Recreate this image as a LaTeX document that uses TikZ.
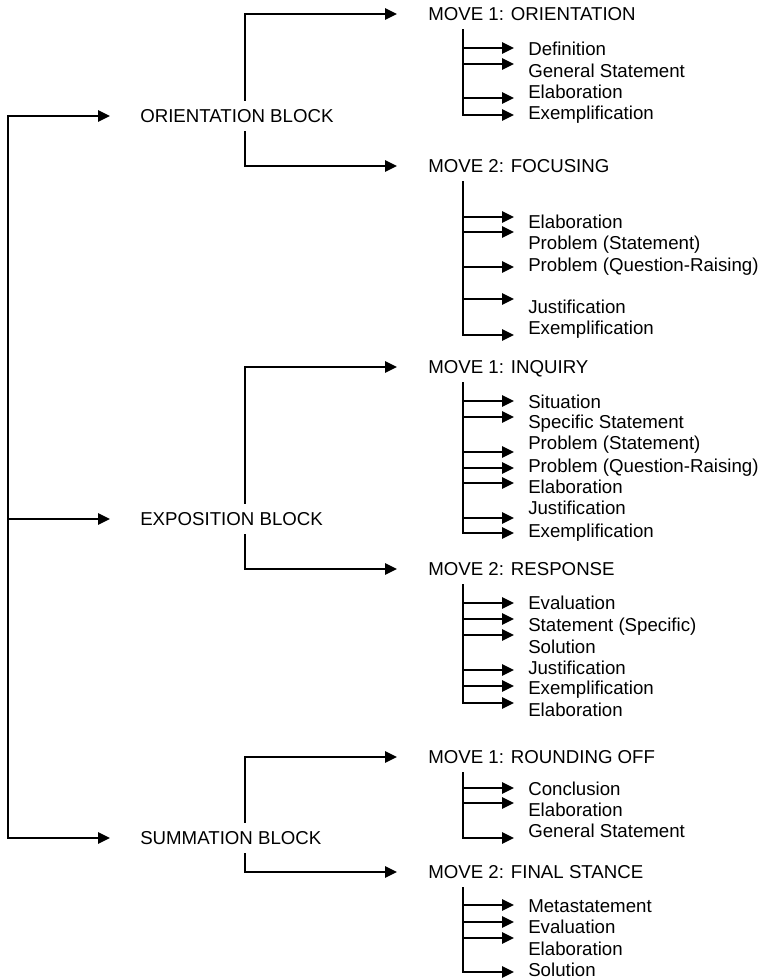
\documentclass[tikz,border=0pt]{standalone}
\usepackage{fontspec}
\setmainfont{Liberation Sans}
\usetikzlibrary{arrows.meta}

\begin{document}
\begin{tikzpicture}[x=0.75pt, y=-0.75pt,
  every node/.style={font=\fontsize{14}{16}\selectfont, text height=10pt, text depth=0pt,
                     inner ysep=0pt, anchor=west},
  blk/.style={inner xsep=22.5pt, inner ysep=7pt},
  mv/.style={inner xsep=23.25pt, inner ysep=7pt},
  itm/.style={inner xsep=10.5pt},
  arr/.style={-{Triangle[length=9pt,width=8.5pt]}, line width=1.5pt, line cap=rect}
]
\useasboundingbox (0,0) rectangle (760,980);
\coordinate (trunk) at (8,116);
\coordinate (bx) at (245,0);
\coordinate (sx) at (463,0);

% blocks
\node[blk] (ob) at (110,116) {ORIENTATION BLOCK};
\node[blk] (eb) at (110,519) {EXPOSITION BLOCK};
\node[blk] (sb) at (110,838) {SUMMATION BLOCK};
\draw[arr] (trunk) |- (sb.west);
\draw[arr] (trunk) -- (ob.west);
\draw[arr] (eb.west -| trunk) -- (eb.west);

% moves
\node[mv] (o1) at (397,14) {MOVE 1: ORIENTATION};
\node[mv] (o2) at (397,166) {MOVE 2: FOCUSING};
\node[mv] (e1) at (397,367) {MOVE 1: INQUIRY};
\node[mv] (e2) at (397,569) {MOVE 2: RESPONSE};
\node[mv] (s1) at (397,757) {MOVE 1: ROUNDING OFF};
\node[mv] (s2) at (397,872) {MOVE 2: FINAL STANCE};
\draw[arr] (ob.north -| bx) |- (o1.west);
\draw[arr] (ob.south -| bx) |- (o2.west);
\draw[arr] (eb.north -| bx) |- (e1.west);
\draw[arr] (eb.south -| bx) |- (e2.west);
\draw[arr] (sb.north -| bx) |- (s1.west);
\draw[arr] (sb.south -| bx) |- (s2.west);

% move 1: orientation
\node[itm] (o1a) at (514,49) {Definition};
\node[itm] (o1b) at (514,71) {General Statement};
\node[itm] (o1c) at (514,92) {Elaboration};
\node[itm] (o1d) at (514,113) {Exemplification};
\draw[arr] (o1.south -| sx) |- (o1d.west |- 0,115);
\draw[arr] (sx |- 0,48) -- (o1a.west |- 0,48);
\draw[arr] (sx |- 0,64) -- (o1b.west |- 0,64);
\draw[arr] (sx |- 0,98) -- (o1c.west |- 0,98);

% move 2: focusing
\node[itm] (o2a) at (514,222) {Elaboration};
\node[itm] (o2b) at (514,243) {Problem (Statement)};
\node[itm] (o2c) at (514,265) {Problem (Question-Raising)};
\node[itm] (o2d) at (514,307) {Justification};
\node[itm] (o2e) at (514,328) {Exemplification};
\draw[arr] (o2.south -| sx) |- (o2e.west |- 0,335);
\draw[arr] (sx |- 0,217) -- (o2a.west |- 0,217);
\draw[arr] (sx |- 0,232) -- (o2b.west |- 0,232);
\draw[arr] (sx |- 0,267) -- (o2c.west |- 0,267);
\draw[arr] (sx |- 0,299) -- (o2d.west |- 0,299);

% move 1: inquiry
\node[itm] (e1a) at (514,402) {Situation};
\node[itm] (e1b) at (514,422) {Specific Statement};
\node[itm] (e1c) at (514,443) {Problem (Statement)};
\node[itm] (e1d) at (514,466) {Problem (Question-Raising)};
\node[itm] (e1e) at (514,487) {Elaboration};
\node[itm] (e1f) at (514,508) {Justification};
\node[itm] (e1g) at (514,531) {Exemplification};
\draw[arr] (e1.south -| sx) |- (e1g.west |- 0,533);
\draw[arr] (sx |- 0,401) -- (e1a.west |- 0,401);
\draw[arr] (sx |- 0,417) -- (e1b.west |- 0,417);
\draw[arr] (sx |- 0,452) -- (e1c.west |- 0,452);
\draw[arr] (sx |- 0,468) -- (e1d.west |- 0,468);
\draw[arr] (sx |- 0,483) -- (e1e.west |- 0,483);
\draw[arr] (sx |- 0,518) -- (e1f.west |- 0,518);

% move 2: response
\node[itm] (e2a) at (514,603) {Evaluation};
\node[itm] (e2b) at (514,625) {Statement (Specific)};
\node[itm] (e2c) at (514,647) {Solution};
\node[itm] (e2d) at (514,668) {Justification};
\node[itm] (e2e) at (514,688) {Exemplification};
\node[itm] (e2f) at (514,710) {Elaboration};
\draw[arr] (e2.south -| sx) |- (e2f.west |- 0,703);
\draw[arr] (sx |- 0,603) -- (e2a.west |- 0,603);
\draw[arr] (sx |- 0,619) -- (e2b.west |- 0,619);
\draw[arr] (sx |- 0,635) -- (e2c.west |- 0,635);
\draw[arr] (sx |- 0,670) -- (e2d.west |- 0,670);
\draw[arr] (sx |- 0,686) -- (e2e.west |- 0,686);

% move 1: rounding off
\node[itm] (s1a) at (514,789) {Conclusion};
\node[itm] (s1b) at (514,810) {Elaboration};
\node[itm] (s1c) at (514,831) {General Statement};
\draw[arr] (s1.south -| sx) |- (s1c.west |- 0,838);
\draw[arr] (sx |- 0,788) -- (s1a.west |- 0,788);
\draw[arr] (sx |- 0,803) -- (s1b.west |- 0,803);

% move 2: final stance
\node[itm] (s2a) at (514,906) {Metastatement};
\node[itm] (s2b) at (514,927) {Evaluation};
\node[itm] (s2c) at (514,949) {Elaboration};
\node[itm] (s2d) at (514,970) {Solution};
\draw[arr] (s2.south -| sx) |- (s2d.west |- 0,972);
\draw[arr] (sx |- 0,905) -- (s2a.west |- 0,905);
\draw[arr] (sx |- 0,922) -- (s2b.west |- 0,922);
\draw[arr] (sx |- 0,938) -- (s2c.west |- 0,938);
\end{tikzpicture}
\end{document}
